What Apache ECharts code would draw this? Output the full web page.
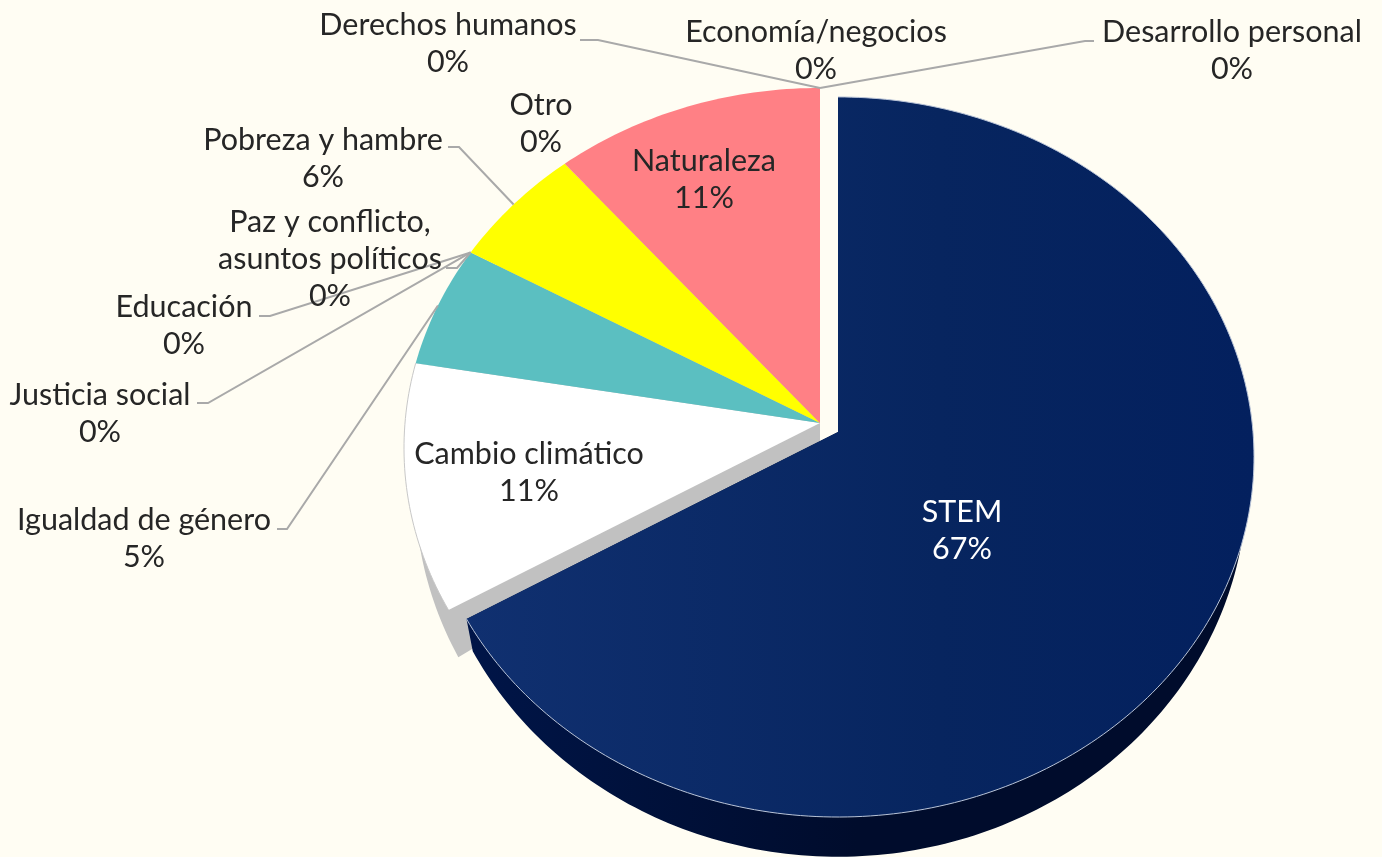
<!DOCTYPE html>
<html>
<head>
<meta charset="utf-8">
<style>
  html, body { margin: 0; padding: 0; background: #fffdf3; }
  #main { width: 1382px; height: 857px; }
</style>
<script src="https://cdn.jsdelivr.net/npm/echarts@6/dist/echarts.min.js"></script>
</head>
<body>
<div id="main"></div>
<script>
const categories = ['STEM', 'Cambio climático', 'Igualdad de género', 'Justicia social', 'Educación',
  'Paz y conflicto,\nasuntos políticos', 'Pobreza y hambre', 'Otro', 'Naturaleza',
  'Derechos humanos', 'Economía/negocios', 'Desarrollo personal']
const shares = [66.6, 11.1, 5.49, 0, 0, 0, 5.6, 0, 11.21, 0, 0, 0]
const colors = ['#06235f', '#ffffff', '#5bbfc1', '#5bbfc1', '#5bbfc1', '#ffff00', '#ffff00', '#ff8085', '#ff8085', '#ff8085', '#ff8085', '#ff8085']

// label layout, same order as categories: centre of the text block
const labelX = [962, 529, 144, 100, 184, 330, 323, 541, 704, 448, 816, 1232]
const labelY = [531, 473, 539, 414, 326, 259, 159, 124, 180, 44, 51, 51]
// leader lines: where the line leaves the label, null = no line
const leaderFrom = [null, null, [277, 529, 287], [197, 403, 208], [259, 316, 270], [446, 268, 457],
  [448, 147, 459], null, null, [580, 40, 598], null, [1094, 41, 1085]]

const total = shares.reduce((a, b) => a + b, 0)
const toAngle = 360 / total

// top face is a circle seen in perspective
const k = 0.0694
const faceA = 415
const faceB = 358.3

function project(cx, cy, a, b, deg) {
  const t = (deg * Math.PI) / 180
  const u = Math.sin(t)
  const v = -Math.cos(t)
  const w = 1 - k * v
  return [cx + (a * u) / w, cy + (b * v) / w]
}

function arc(cx, cy, a, b, from, to) {
  const pts = []
  const n = Math.max(2, Math.ceil(Math.abs(to - from)))
  for (let i = 0; i <= n; i++) pts.push(project(cx, cy, a, b, from + ((to - from) * i) / n))
  return pts
}

function pct(v) {
  return Math.round((v / total) * 100) + '%'
}

let running = 0
const chartData = shares.map((v, i) => {
  const start = running
  running += v * toAngle
  return { name: categories[i], value: [v, start, running, i] }
})

function renderSlice(params, api) {
  const i = api.value(3)
  const value = api.value(0)
  const from = api.value(1)
  const to = api.value(2)
  const stem = i === 0
  // STEM is pulled out of the pie
  const cx = stem ? 838 : 820
  const cy = stem ? 432 : 423
  const children = []

  if (value > 0) {
    const wallA = stem ? 408 : 404
    const wallY = stem ? 457 : 463
    const lowApex = [cx, cy + 18]
    const lower = arc(cx, wallY, wallA, 372, from, to)
    const wallPts = [[cx, cy], lowApex].concat(lower, [project(cx, cy, faceA, faceB, to)])
    children.push({
      type: 'polygon',
      z2: stem ? 2 : 1,
      shape: { points: wallPts },
      style: {
        fill: stem
          ? new echarts.graphic.LinearGradient(0, 0, 1, 0, [
              { offset: 0, color: '#001548' },
              { offset: 0.5, color: '#000c2c' },
              { offset: 1, color: '#000c2c' },
            ])
          : '#c1c1c1',
      },
    })

    const rim = arc(cx, cy, faceA, faceB, from, to)
    children.push({
      type: 'polygon',
      z2: stem ? 4 : 3,
      shape: { points: [[cx, cy]].concat(rim) },
      style: {
        fill: stem
          ? new echarts.graphic.LinearGradient(0, 0, 1, 0, [
              { offset: 0, color: '#103070' },
              { offset: 0.6, color: '#07255f' },
              { offset: 1, color: '#03205e' },
            ])
          : colors[i],
      },
    })
    if (i < 2) {
      children.push({
        type: 'polyline',
        z2: 5,
        shape: { points: rim },
        style: { fill: null, stroke: stem ? '#b9c4d8' : '#c8c8c8', lineWidth: 1 },
      })
    }
  }

  const lead = leaderFrom[i]
  if (lead) {
    const tip = project(cx, cy, faceA, faceB, (from + to) / 2)
    children.push({
      type: 'polyline',
      z2: 6,
      shape: { points: [[lead[0], lead[1]], [lead[2], lead[1]], tip] },
      style: { fill: null, stroke: '#a9a9a9', lineWidth: 2 },
    })
  }

  children.push({
    type: 'text',
    z2: 7,
    style: {
      text: categories[i] + '\n' + pct(value),
      x: labelX[i],
      y: labelY[i],
      align: 'center',
      verticalAlign: 'middle',
      lineHeight: 37,
      fontFamily: 'Lato',
      fontSize: 30.5,
      fill: stem ? '#ffffff' : '#262626',
    },
  })

  return { type: 'group', children: children }
}

const myChart = echarts.init(document.getElementById('main'))
myChart.setOption({
  backgroundColor: '#fffdf3',
  animation: false,
  series: [
    {
      type: 'custom',
      coordinateSystem: 'none',
      silent: true,
      renderItem: renderSlice,
      data: chartData,
    },
  ],
})
</script>
</body>
</html>
